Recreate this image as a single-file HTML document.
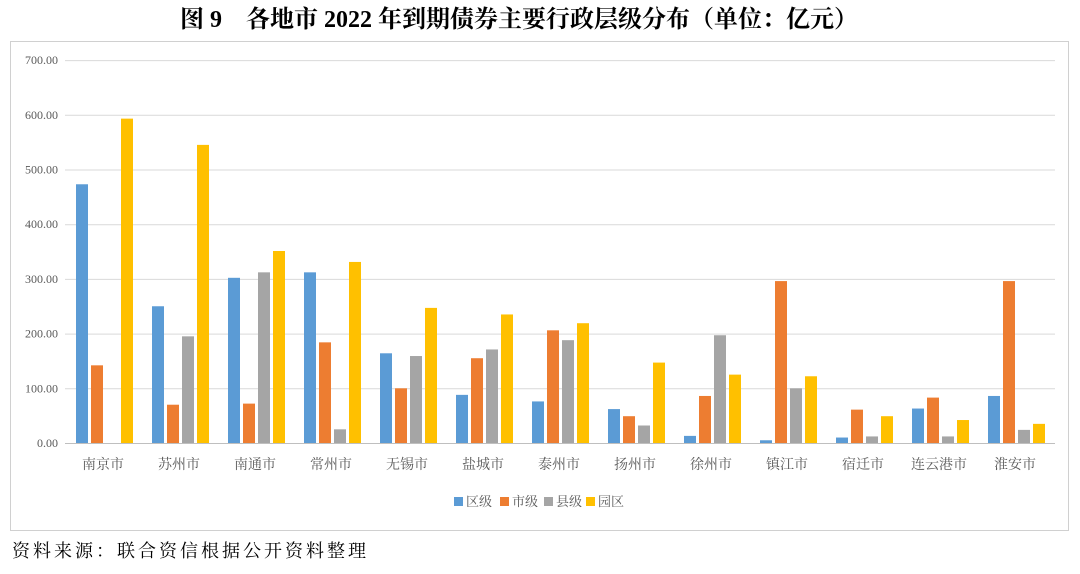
<!DOCTYPE html>
<html><head><meta charset="utf-8"><style>
html,body{margin:0;padding:0;background:#fff;}
body{width:1080px;height:569px;overflow:hidden;}
text{font-family:"Liberation Serif","Noto Serif CJK SC",serif;}
</style></head><body>
<svg width="1080" height="569" xmlns="http://www.w3.org/2000/svg">
<text x="519" y="27" text-anchor="middle" font-size="24" font-weight="bold" fill="#000">图 9　各地市 2022 年到期债券主要行政层级分布（单位：亿元）</text>
<rect x="10.5" y="41.5" width="1058" height="489" fill="#fff" stroke="#d0d0d0"/>
<g id="grid" stroke="#d9d9d9" stroke-width="1"></g>
<g id="bars"></g>
<g id="labels" font-size="13" fill="#595959"></g>
<g font-size="13" fill="#595959">
<rect x="454" y="497" width="9" height="9" fill="#5B9BD5"/><text x="466" y="506">区级</text>
<rect x="500" y="497" width="9" height="9" fill="#ED7D31"/><text x="512" y="506">市级</text>
<rect x="544" y="497" width="9" height="9" fill="#A5A5A5"/><text x="556" y="506">县级</text>
<rect x="586" y="497" width="9" height="9" fill="#FFC000"/><text x="598" y="506">园区</text>
</g>
<text x="12" y="557" font-size="18" letter-spacing="3" fill="#000">资料来源：联合资信根据公开资料整理</text>
</svg>
<script>
const ns="http://www.w3.org/2000/svg";
const g=document.getElementById('grid'),b=document.getElementById('bars'),l=document.getElementById('labels');
function el(p,t,a,txt){const e=document.createElementNS(ns,t);for(const k in a)e.setAttribute(k,a[k]);if(txt!==undefined)e.textContent=txt;p.appendChild(e);return e;}
const y0=443,k=0.547;
for(let v=0;v<=700;v+=100){const y=y0-v*k;el(g,'line',{x1:65,x2:1055,y1:y+0.5,y2:y+0.5,stroke:v==0?'#bfbfbf':'#d9d9d9'});
el(l,'text',{x:58,y:y+4,'text-anchor':'end','font-size':12},v.toFixed(2));}
const names=["南京市","苏州市","南通市","常州市","无锡市","盐城市","泰州市","扬州市","徐州市","镇江市","宿迁市","连云港市","淮安市"];
const d=[[473,142,0,593],[250,70,195,545],[302,72,312,351],[312,184,25,331],[164,100,159,247],[88,155,171,235],[76,206,188,219],[62,49,32,147],[13,86,197,125],[5,296,100,122],[10,61,12,49],[63,83,12,42],[86,296,24,35]];
const cols=["#5B9BD5","#ED7D31","#A5A5A5","#FFC000"];
names.forEach((n,i)=>{const c=103+i*76;
d[i].forEach((v,j)=>{if(v<=0)return;const h=v*k;el(b,'rect',{x:c-27+j*15,y:y0-h,width:12,height:h,fill:cols[j]});});
el(l,'text',{x:c,y:469,'text-anchor':'middle','font-size':14},n);});
</script>
</body></html>
